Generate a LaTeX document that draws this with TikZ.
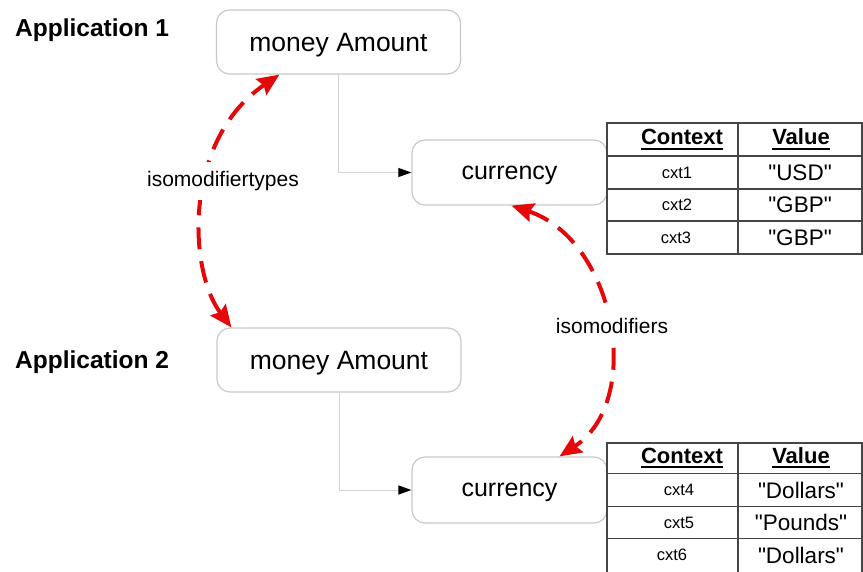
\documentclass[tikz,border=0pt]{standalone}
\usepackage{fontspec}
\setmainfont{Liberation Sans}
\usepackage{xcolor}
\usetikzlibrary{arrows.meta}
\usetikzlibrary{calc}

\definecolor{boxgray}{RGB}{200,200,200}
\definecolor{linkgray}{RGB}{212,212,212}
\definecolor{isored}{RGB}{228,8,10}
\definecolor{tabgray}{RGB}{70,70,70}

% bold heading with a thick underline
\newcommand{\headtext}[1]{\setbox0=\hbox{#1}\rlap{\rule[-5pt]{\wd0}{2pt}}\box0}
% straight quotes round a value
\newcommand{\qv}[1]{\textquotedbl#1\textquotedbl}

\begin{document}
\begin{tikzpicture}[x=1pt,y=1pt,
	box/.style={draw=boxgray, line width=1.2pt, rounded corners=13pt, fill=white,
		minimum height=64pt, text depth=0pt, font=\fontsize{25}{30}\selectfont},
	link/.style={draw=linkgray, line width=1pt, -{Triangle[length=13pt,width=9pt,black]}},
	isolink/.style={draw=isored, line width=4pt, dash pattern=on 22pt off 12pt,
		{Stealth[length=22pt,width=19pt,inset=3pt,isored]}-{Stealth[length=22pt,width=19pt,inset=3pt,isored]}},
	isolabel/.style={fill=white, inner xsep=3pt, inner ysep=9pt, font=\fontsize{21}{25}\selectfont},
	appname/.style={font=\fontsize{24.5}{29}\bfseries\selectfont},
	tabline/.style={draw=tabgray, line width=1.6pt},
	headcell/.style={font=\fontsize{22}{26}\bfseries\selectfont},
	cxtcell/.style={font=\fontsize{16.5}{20}\selectfont},
	valcell/.style={font=\fontsize{22.5}{27}\selectfont}]
	\tikzstyle{every node}+=[inner sep=0pt]
	\useasboundingbox (0,0) rectangle (863,-571);

	\node [appname, anchor=base west] (app1) at (15,-36) {Application 1};
	\node [appname, anchor=base west] (app2) at (15,-368.5) {Application 2};

	\node [box, minimum width=244pt, font=\fontsize{26.5}{31}\selectfont] (amount1) at (338.5,-42) {money Amount};
	\node [box, minimum width=195pt, minimum height=65pt] (cur1) at (509.5,-172.5) {currency};
	\node [box, minimum width=244pt, font=\fontsize{26.5}{31}\selectfont] (amount2) at (339,-360) {money Amount};
	\node [box, minimum width=195pt, minimum height=66pt] (cur2) at (509.5,-490) {currency};

	\draw [link] (amount1.south) |- (cur1.west);
	\draw [link] (amount2.south) |- (cur2.west);

	\draw [isolink] ([xshift=15pt]amount2.north west) .. controls (188,-270) and (183,-140) .. ([xshift=63.5pt]amount1.south west);
	\draw [isolink] ([xshift=2pt]cur1.south) .. controls (615,-240) and (645,-400) .. ([xshift=50pt]cur2.north);
	\node [isolabel] (typeslbl) at (223,-181) {isomodifiertypes};
	\node [isolabel] (modslbl) at (612,-326) {isomodifiers};

	% table of application 1
	\draw [tabline] (607,-123) rectangle (862,-254);
	\draw [tabline] (738,-123) -- (738,-254);
	\draw [tabline] (607,-156) -- (862,-156);
	\draw [tabline] (607,-189) -- (862,-189);
	\draw [tabline] (607,-221) -- (862,-221);
	\node [headcell] (ctx1) at (682,-139.5) {\headtext{Context}};
	\node [headcell] (val1) at (801,-139.5) {\headtext{Value}};
	\node [cxtcell] (cxt1) at (677,-172.5) {cxt1};
	\node [valcell] (usd1) at (800,-172.5) {\qv{USD}};
	\node [cxtcell] (cxt2) at (677,-205) {cxt2};
	\node [valcell] (gbp2) at (800,-205) {\qv{GBP}};
	\node [cxtcell] (cxt3) at (676,-237.5) {cxt3};
	\node [valcell] (gbp3) at (800,-237.5) {\qv{GBP}};

	% table of application 2
	\draw [tabline] (607,-443) rectangle (862,-575);
	\draw [tabline] (738,-443) -- (738,-575);
	\draw [tabline] (607,-473.5) -- (862,-473.5);
	\draw [tabline] (607,-506.5) -- (862,-506.5);
	\draw [tabline] (607,-538.5) -- (862,-538.5);
	\node [headcell] (ctx2) at (682,-458) {\headtext{Context}};
	\node [headcell] (val2) at (801,-458) {\headtext{Value}};
	\node [cxtcell] (cxt4) at (679,-490) {cxt4};
	\node [valcell] (dol4) at (801,-490) {\qv{Dollars}};
	\node [cxtcell] (cxt5) at (679,-522.5) {cxt5};
	\node [valcell] (pnd5) at (801,-522.5) {\qv{Pounds}};
	\node [cxtcell] (cxt6) at (672,-555) {cxt6};
	\node [valcell] (dol6) at (801,-555) {\qv{Dollars}};
\end{tikzpicture}
\end{document}
